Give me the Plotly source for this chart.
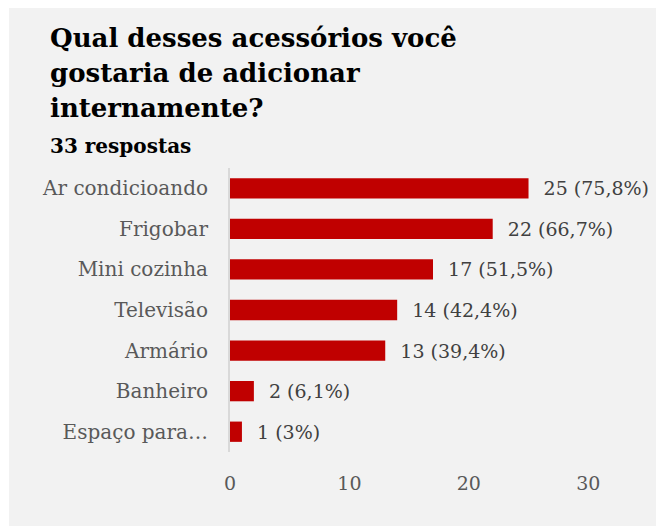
import plotly.graph_objects as go

categories = ["Ar condicioando", "Frigobar", "Mini cozinha", "Televisão", "Armário", "Banheiro", "Espaço para…"]
counts = [25, 22, 17, 14, 13, 2, 1]
percents = ["75,8%", "66,7%", "51,5%", "42,4%", "39,4%", "6,1%", "3%"]
tick_vals = [0, 10, 20, 30]
title_lines = ["Qual desses acessórios você", "gostaria de adicionar", "internamente?"]
subtitle = "33 respostas"

W, H = 656, 526
L, R, T, B = 230, 20, 168, 74
pw = W - L - R
ph = H - T - B

def px_x(px):
    return (px - L) / pw

def px_y(py):
    return (H - B - py) / ph

labels = ["  %d (%s)" % (c, p) for c, p in zip(counts, percents)]

FONT = "DejaVu Serif"

fig = go.Figure(go.Bar(
    x=counts, y=categories, orientation="h",
    marker=dict(color="#c00000", line=dict(width=0)),
    text=labels, textposition="outside", cliponaxis=False, constraintext="none",
    textfont=dict(family=FONT, size=19, color="#404040"),
    hoverinfo="skip",
))

annotations = []
for i, line in enumerate(title_lines):
    annotations.append(dict(xref="paper", yref="paper", x=px_x(48), y=px_y(38 + 35 * i),
                            xanchor="left", yanchor="middle", align="left", showarrow=False,
                            text="<b>%s</b>" % line,
                            font=dict(family=FONT, size=26, color="black")))
annotations.append(dict(xref="paper", yref="paper", x=px_x(48), y=px_y(146), xanchor="left",
                        yanchor="middle", align="left", showarrow=False,
                        text="<b>%s</b>" % subtitle,
                        font=dict(family=FONT, size=20, color="black")))

fig.update_layout(
    width=W, height=H,
    margin=dict(l=L, r=R, t=T, b=B),
    paper_bgcolor="white",
    plot_bgcolor="rgba(0,0,0,0)",
    bargap=0.5,
    showlegend=False,
    font=dict(family=FONT, color="#595959"),
    xaxis=dict(range=[0, 34], tickvals=tick_vals, showgrid=False, zeroline=False,
               showline=False, tickfont=dict(size=19, color="#595959"),
               ticklabelstandoff=18),
    yaxis=dict(categoryorder="array", categoryarray=categories[::-1],
               showgrid=False, zeroline=False, showline=True, linecolor="#d9d9d9",
               linewidth=2, tickfont=dict(size=20, color="#595959"),
               ticklabelstandoff=16),
    shapes=[dict(type="rect", xref="paper", yref="paper",
                 x0=px_x(9), x1=px_x(660), y0=px_y(530), y1=px_y(8),
                 fillcolor="#f2f2f2", line=dict(width=0), layer="below")],
    annotations=annotations,
)

fig.write_html("out.html")
